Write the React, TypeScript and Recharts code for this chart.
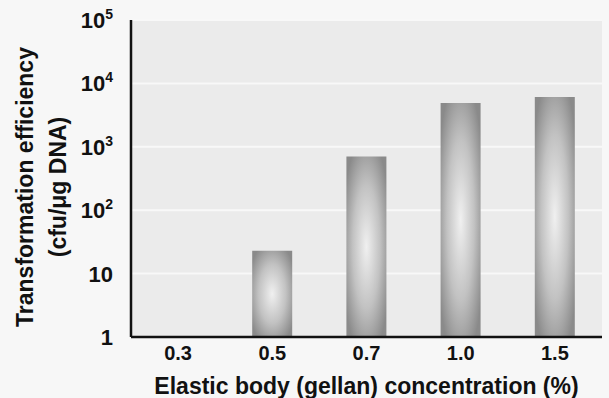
import { BarChart, Bar, XAxis, YAxis, CartesianGrid, Label } from 'recharts';

// gellan concentration (%) vs transformation efficiency (cfu/µg DNA), log scale
const concentrations = ['0.3', '0.5', '0.7', '1.0', '1.5'];
const efficiency: (number | null)[] = [null, 23, 700, 4900, 6100];
const yTicks = [1, 10, 100, 1000, 10000, 100000];

const data = concentrations.map((c, i) => ({ conc: c, value: efficiency[i] }));

const FONT = '"Liberation Sans", Arial, sans-serif';

// y tick: 1 and 10 plain, the rest as 10 with a superscript exponent
function YTick(props: any) {
  const { x, y, payload } = props;
  const v = payload.value as number;
  const exp = Math.round(Math.log10(v));
  if (exp < 2) {
    return (
      <text x={x - 10} y={y + 8} textAnchor="end" fontSize={22} fontWeight="bold" fontFamily={FONT} fill="#111">
        {v}
      </text>
    );
  }
  return (
    <text x={x - 10} y={y + 8} textAnchor="end" fontSize={22} fontWeight="bold" fontFamily={FONT} fill="#111">
      10
      <tspan fontSize={14} dy={-9}>{exp}</tspan>
    </text>
  );
}

function YLabel() {
  const cy = 187;
  return (
    <g fontFamily={FONT} fontWeight="bold" fontSize={23} fill="#111">
      <text x={33} y={cy} textAnchor="middle" transform={`rotate(-90 33 ${cy})`}>
        Transformation efficiency
      </text>
      <text x={66} y={cy} textAnchor="middle" transform={`rotate(-90 66 ${cy})`}>
        (cfu/μg DNA)
      </text>
    </g>
  );
}

export default function App() {
  return (
    <div style={{ position: 'absolute', left: 0, top: 0, width: 609, height: 398, background: '#f7f7f7' }}>
      <BarChart
        width={609}
        height={398}
        data={data}
        margin={{ top: 20, right: 7, bottom: 0, left: 0 }}
      >
        <defs>
          <radialGradient id="barShade" cx="50%" cy="50%" r="62%">
            <stop offset="0%" stopColor="#f0f0f0" />
            <stop offset="55%" stopColor="#c2c2c2" />
            <stop offset="100%" stopColor="#8a8a8a" />
          </radialGradient>
        </defs>
        <CartesianGrid fill="#ebebeb" vertical={false} stroke="#f8f8f8" strokeWidth={2} />
        <XAxis
          dataKey="conc"
          height={61}
          tickLine={false}
          axisLine={{ stroke: '#111', strokeWidth: 2.5 }}
          tick={{ fontSize: 20, fontWeight: 'bold', fontFamily: FONT, fill: '#111' }}
          tickMargin={3}
          interval={0}
        >
          <Label
            value="Elastic body (gellan) concentration (%)"
            position="insideBottom"
            offset={4}
            style={{ fontSize: 23, fontWeight: 'bold', fontFamily: FONT, fill: '#111' }}
          />
        </XAxis>
        <YAxis
          scale="log"
          domain={[1, 100000]}
          ticks={yTicks}
          allowDataOverflow
          width={131}
          tickLine={false}
          axisLine={{ stroke: '#111', strokeWidth: 2.5 }}
          tick={<YTick />}
          interval={0}
        >
          <Label content={<YLabel />} />
        </YAxis>
        <Bar dataKey="value" fill="url(#barShade)" barSize={40} isAnimationActive={false} />
      </BarChart>
    </div>
  );
}
